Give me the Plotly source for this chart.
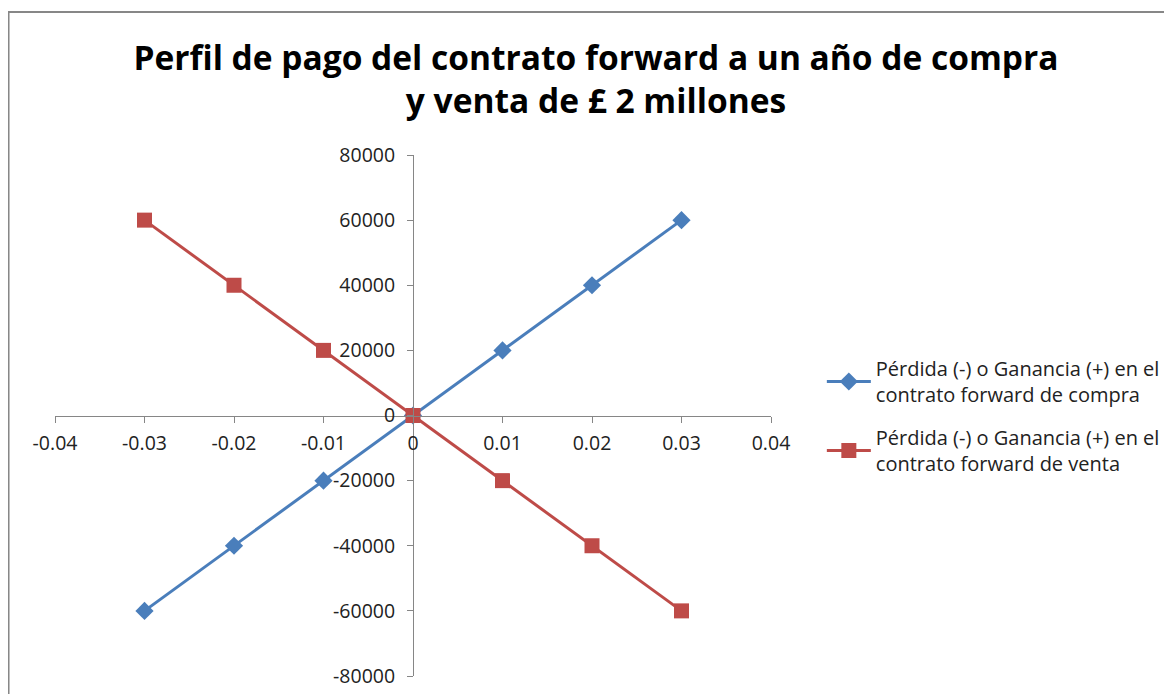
import plotly.graph_objects as go

# Data
tipo_cambio = [-0.03, -0.02, -0.01, 0, 0.01, 0.02, 0.03]
compra = [-60000, -40000, -20000, 0, 20000, 40000, 60000]
venta = [60000, 40000, 20000, 0, -20000, -40000, -60000]

x_ticks = [-0.04, -0.03, -0.02, -0.01, 0, 0.01, 0.02, 0.03, 0.04]
x_tick_labels = ["-0.04", "-0.03", "-0.02", "-0.01", "0", "0.01", "0.02", "0.03", "0.04"]
y_ticks = [-80000, -60000, -40000, -20000, 0, 20000, 40000, 60000, 80000]
y_tick_labels = ["-80000", "-60000", "-40000", "-20000", "0", "20000", "40000", "60000", "80000"]

font_family = "Open Sans, Noto Sans, sans-serif"
axis_grey = "#868686"

fig = go.Figure()

fig.add_trace(go.Scatter(
    x=tipo_cambio, y=compra, mode="lines+markers",
    name="Pérdida (-) o Ganancia (+) en el<br>contrato forward de compra",
    legendgroup="compra",
    line=dict(color="#4A7EBB", width=3),
    marker=dict(symbol="diamond", size=14, color="#4A7EBB"),
))
fig.add_trace(go.Scatter(
    x=tipo_cambio, y=venta, mode="lines+markers",
    name="Pérdida (-) o Ganancia (+) en el<br>contrato forward de venta",
    legendgroup="venta",
    line=dict(color="#BE4B48", width=3),
    marker=dict(symbol="square", size=15, color="#BE4B48"),
))

# Outer chart border (Excel chart area)
fig.add_shape(type="rect", xref="paper", yref="paper",
              x0=-0.0649, x1=1.6, y0=-0.1, y1=1.2745,
              line=dict(color="#878787", width=2), layer="below")

# the page body adds 8px around the figure, margins compensate for it
fig.update_layout(
    width=1172, height=694,
    margin=dict(l=47, r=409, t=147, b=26, autoexpand=False),
    paper_bgcolor="white", plot_bgcolor="white",
    font=dict(family=font_family, size=19.5, color="#222222"),
    title=dict(
        text="<b>Perfil de pago del contrato forward a un año de compra<br>y venta de £ 2 millones</b>",
        x=0.5017, xanchor="center", xref="container",
        y=0.911, yanchor="middle", yref="container",
        font=dict(family=font_family, size=33.5, color="black"),
    ),
    xaxis=dict(
        range=[-0.04, 0.04], tickvals=x_ticks, ticktext=x_tick_labels,
        showgrid=False, zeroline=False, showline=True, linecolor=axis_grey, linewidth=1,
        ticks="outside", ticklen=6, tickcolor=axis_grey, automargin=False,
        anchor="free", position=0.5, ticklabelstandoff=4,
    ),
    yaxis=dict(
        range=[-80000, 80000], tickvals=y_ticks, ticktext=y_tick_labels,
        showgrid=False, zeroline=False, showline=True, linecolor=axis_grey, linewidth=1,
        ticks="outside", ticklen=6, tickcolor=axis_grey, automargin=False,
        anchor="free", position=0.5, ticklabelstandoff=8,
    ),
    legend=dict(
        x=1.071, y=0.499, xanchor="left", yanchor="middle",
        font=dict(family=font_family, size=20, color="#222222"),
        itemwidth=44, tracegroupgap=14, bgcolor="rgba(0,0,0,0)",
    ),
    showlegend=True,
)

fig.write_html("out.html")
